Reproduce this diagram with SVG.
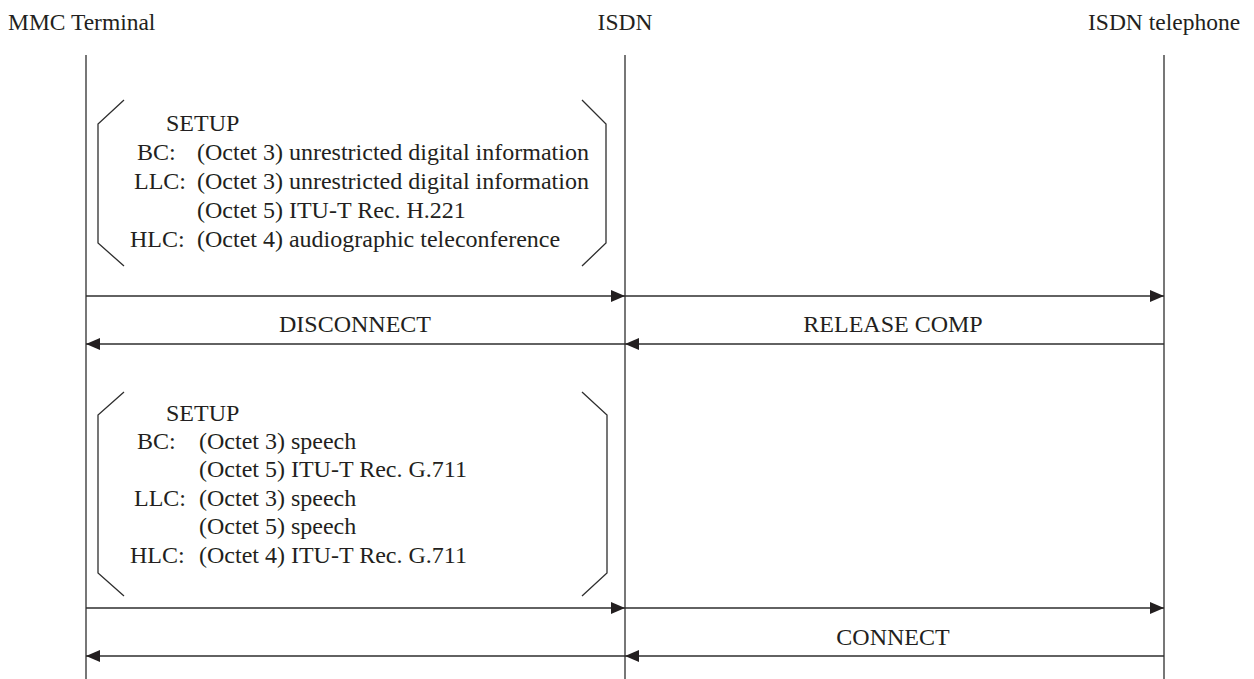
<svg xmlns="http://www.w3.org/2000/svg" width="1254" height="679" viewBox="0 0 1254 679">
<defs>
<style>
text{font-family:"Liberation Serif","Times New Roman",serif;font-size:24px;fill:#231f20}
.hd{font-size:23.5px}
.life{stroke:#2e2e2e;stroke-width:1.3;fill:none}
.msg{stroke:#2e2e2e;stroke-width:1.5;fill:none;marker-end:url(#ah)}
.br{stroke:#2e2e2e;stroke-width:1.3;fill:none}
.mid{text-anchor:middle}
</style>
<marker id="ah" markerUnits="userSpaceOnUse" markerWidth="14" markerHeight="12" refX="14" refY="6" orient="auto">
<path d="M0,0 L14,6 L0,12 z" fill="#231f20"/>
</marker>
</defs>
<rect width="1254" height="679" fill="#fff"/>
<g id="mmc-terminal">
<text class="hd" x="8" y="30">MMC Terminal</text>
<line class="life" x1="86" y1="55" x2="86" y2="679"/>
</g>
<g id="isdn">
<text class="hd mid" x="625" y="30">ISDN</text>
<line class="life" x1="625" y1="55" x2="625" y2="679"/>
</g>
<g id="isdn-telephone">
<text class="hd" x="1088" y="30">ISDN telephone</text>
<line class="life" x1="1164" y1="55" x2="1164" y2="679"/>
</g>
<g id="setup-1">
<polyline class="br" points="124,100 98,124 98,243 124,266"/>
<polyline class="br" points="582,100 606,124 606,243 582,266"/>
<text x="166" y="131">SETUP</text>
<text x="137" y="160">BC:</text>
<text x="197" y="160">(Octet 3) unrestricted digital information</text>
<text x="134" y="189">LLC:</text>
<text x="197" y="189">(Octet 3) unrestricted digital information</text>
<text x="197" y="218">(Octet 5) ITU-T Rec. H.221</text>
<text x="130" y="247">HLC:</text>
<text x="197" y="247">(Octet 4) audiographic teleconference</text>
</g>
<g id="setup-2">
<polyline class="br" points="124,392 98,415 98,573 124,596"/>
<polyline class="br" points="582,392 607,415 607,573 582,596"/>
<text x="166" y="421">SETUP</text>
<text x="137" y="449">BC:</text>
<text x="199" y="449">(Octet 3) speech</text>
<text x="199" y="477">(Octet 5) ITU-T Rec. G.711</text>
<text x="134" y="506">LLC:</text>
<text x="199" y="506">(Octet 3) speech</text>
<text x="199" y="534">(Octet 5) speech</text>
<text x="130" y="563">HLC:</text>
<text x="199" y="563">(Octet 4) ITU-T Rec. G.711</text>
</g>
<g id="connectors">
<line class="msg" x1="86" y1="296" x2="625" y2="296"/>
<line class="msg" x1="625" y1="296" x2="1164" y2="296"/>
<text class="mid" x="355" y="332">DISCONNECT</text>
<text class="mid" x="893" y="332">RELEASE COMP</text>
<line class="msg" x1="1164" y1="344" x2="625" y2="344"/>
<line class="msg" x1="625" y1="344" x2="86" y2="344"/>
<line class="msg" x1="86" y1="608" x2="625" y2="608"/>
<line class="msg" x1="625" y1="608" x2="1164" y2="608"/>
<text class="mid" x="893" y="645">CONNECT</text>
<line class="msg" x1="1164" y1="656" x2="625" y2="656"/>
<line class="msg" x1="625" y1="656" x2="86" y2="656"/>
</g>
</svg>
